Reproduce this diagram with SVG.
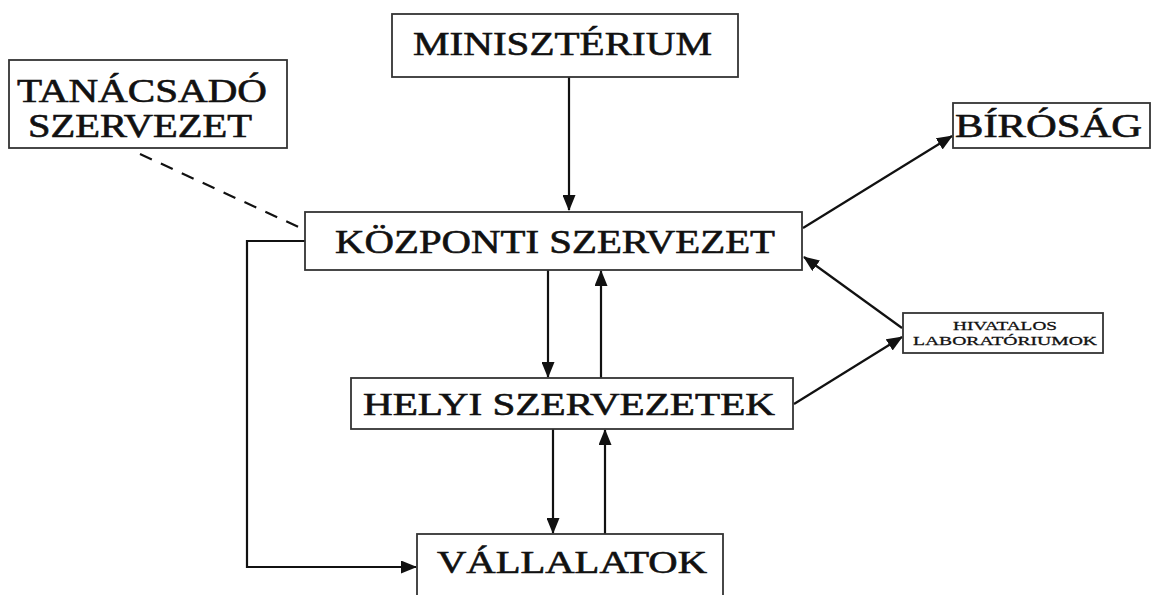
<svg xmlns="http://www.w3.org/2000/svg" width="1151" height="595" viewBox="0 0 1151 595">
<style>
.box{fill:#fff;stroke:#333;stroke-width:1.8}
.t{font-family:"Liberation Serif","Times New Roman",serif;fill:#111;stroke:#111;stroke-width:0.6}
.s{stroke-width:0.3}
.c{fill:none;stroke:#111;stroke-width:2.2}
.d{fill:none;stroke:#111;stroke-width:2.2;stroke-dasharray:13 10}
</style>
<defs>
<marker id="ah" markerUnits="userSpaceOnUse" markerWidth="16" markerHeight="13" viewBox="0 0 16 13" refX="15" refY="6.5" orient="auto">
<path d="M0,0 L16,6.5 L0,13 z" fill="#111"/>
</marker>
</defs>
<rect width="1151" height="595" fill="#fff"/>
<g id="connectors">
<line class="c" x1="569" y1="77" x2="569" y2="210" marker-end="url(#ah)"/>
<line class="c" x1="548" y1="270" x2="548" y2="377" marker-end="url(#ah)"/>
<line class="c" x1="601" y1="378" x2="601" y2="271" marker-end="url(#ah)"/>
<line class="c" x1="553" y1="429" x2="553" y2="533" marker-end="url(#ah)"/>
<line class="c" x1="605" y1="534" x2="605" y2="430" marker-end="url(#ah)"/>
<path class="c" d="M305,241 H247 V567 H416" marker-end="url(#ah)"/>
<line class="d" x1="140" y1="154" x2="305" y2="230"/>
<line class="c" x1="803" y1="228" x2="952" y2="136" marker-end="url(#ah)"/>
<line class="c" x1="902" y1="328" x2="804" y2="257" marker-end="url(#ah)"/>
<line class="c" x1="794" y1="404" x2="902" y2="337" marker-end="url(#ah)"/>
</g>
<g id="ministerium">
<rect class="box" x="392" y="14" width="346" height="63"/>
<text class="t" x="413" y="55" font-size="34" textLength="299" lengthAdjust="spacingAndGlyphs">MINISZTÉRIUM</text>
</g>
<g id="tanacsado">
<rect class="box" x="9" y="60" width="278" height="88"/>
<text class="t" x="17" y="102" font-size="33" textLength="250" lengthAdjust="spacingAndGlyphs">TANÁCSADÓ</text>
<text class="t" x="28" y="137" font-size="33" textLength="224" lengthAdjust="spacingAndGlyphs">SZERVEZET</text>
</g>
<g id="birosag">
<rect class="box" x="953" y="103" width="197" height="45"/>
<text class="t" x="955" y="137" font-size="33" textLength="187" lengthAdjust="spacingAndGlyphs">BÍRÓSÁG</text>
</g>
<g id="kozponti">
<rect class="box" x="305" y="212" width="497" height="58"/>
<text class="t" x="335" y="253" font-size="33" textLength="440" lengthAdjust="spacingAndGlyphs">KÖZPONTI SZERVEZET</text>
</g>
<g id="hivatalos">
<rect class="box" x="903" y="313" width="200" height="40"/>
<text class="t s" x="953" y="330" font-size="13" textLength="104" lengthAdjust="spacingAndGlyphs">HIVATALOS</text>
<text class="t s" x="913" y="345" font-size="13" textLength="184" lengthAdjust="spacingAndGlyphs">LABORATÓRIUMOK</text>
</g>
<g id="helyi">
<rect class="box" x="351" y="378" width="442" height="51"/>
<text class="t" x="363" y="415" font-size="31" textLength="412" lengthAdjust="spacingAndGlyphs">HELYI SZERVEZETEK</text>
</g>
<g id="vallalatok">
<rect class="box" x="417" y="534" width="306" height="70"/>
<text class="t" x="437" y="573" font-size="31" textLength="270" lengthAdjust="spacingAndGlyphs">VÁLLALATOK</text>
</g>
</svg>
